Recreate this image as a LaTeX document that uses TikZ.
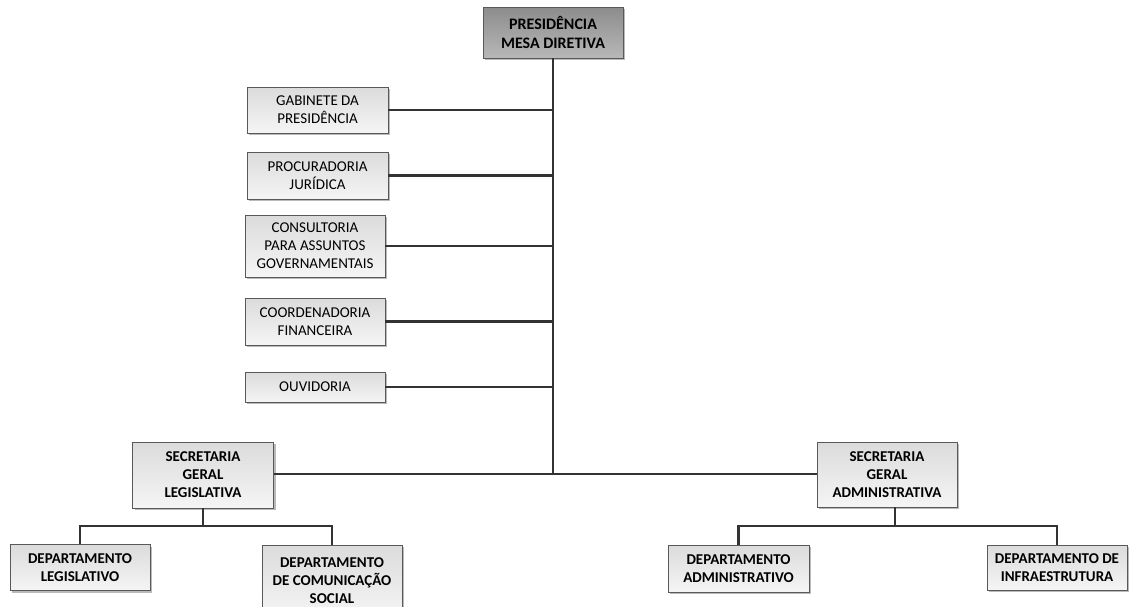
\documentclass[tikz,border=0pt]{standalone}
\usepackage{fontspec}
\setmainfont{Carlito}
\usetikzlibrary{shadows}
\begin{document}
\begin{tikzpicture}[x=1pt,y=-1pt,
  box/.style={draw=black!65, line width=0.9pt, top color=black!14, bottom color=black!4,
    drop shadow={shadow xshift=2pt, shadow yshift=-2pt, opacity=0.45, fill=black!60},
    align=center, inner sep=0pt, font=\fontsize{15}{18}\selectfont},
  bbox/.style={box, font=\fontsize{15}{18}\selectfont\bfseries},
  topbox/.style={bbox, top color=black!45, bottom color=black!28, font=\fontsize{16}{19.5}\selectfont\bfseries},
  conn/.style={draw=black!80, line width=2.3pt}]
\clip (0,0) rectangle (1144,606);
\useasboundingbox (0,0) rectangle (1144,606);
\fill[white] (0,0) rectangle (1144,606);

\node[topbox, minimum width=140, minimum height=51] (top) at (553,32.5) {PRESIDÊNCIA\\MESA DIRETIVA};
\node[box, minimum width=141, minimum height=46] (gab) at (317.5,110) {GABINETE DA\\PRESIDÊNCIA};
\node[box, minimum width=141, minimum height=47] (proc) at (317.5,175.5) {PROCURADORIA\\JURÍDICA};
\node[box, minimum width=140, minimum height=62] (cons) at (315,246) {CONSULTORIA\\PARA ASSUNTOS\\GOVERNAMENTAIS};
\node[box, minimum width=140, minimum height=47] (coord) at (315,321.5) {COORDENADORIA\\FINANCEIRA};
\node[box, minimum width=140, minimum height=30] (ouv) at (315,387) {OUVIDORIA};

\node[bbox, minimum width=141, minimum height=66] (secleg) at (203,475) {SECRETARIA\\GERAL\\LEGISLATIVA};
\node[bbox, minimum width=140, minimum height=65] (secadm) at (887,474.5) {SECRETARIA\\GERAL\\ADMINISTRATIVA};

\node[bbox, minimum width=140, minimum height=46] (deplegis) at (80,567.5) {DEPARTAMENTO\\LEGISLATIVO};
\node[bbox, minimum width=140, minimum height=72] (depcom) at (332,581) {DEPARTAMENTO\\DE COMUNICAÇÃO\\SOCIAL};
\node[bbox, minimum width=141, minimum height=47] (depadm) at (738.5,568.5) {DEPARTAMENTO\\ADMINISTRATIVO};
\node[bbox, minimum width=140, minimum height=45] (depinf) at (1057,567.5) {DEPARTAMENTO DE\\INFRAESTRUTURA};

\coordinate (jT) at (553,474);
\coordinate (jL) at (203,526);
\coordinate (jR) at (895,526);

\draw[conn] (top.south) -- (jT);
\draw[conn] (gab.east) -- (gab.east -| jT);
\draw[conn] (proc.east) -- (proc.east -| jT);
\draw[conn] (cons.east) -- (cons.east -| jT);
\draw[conn] (coord.east) -- (coord.east -| jT);
\draw[conn] (ouv.east) -- (ouv.east -| jT);
\draw[conn] (secleg.east |- jT) -- (secadm.west |- jT);
\draw[conn] (secleg.south) -- (jL);
\draw[conn] (deplegis.north) |- (jL) -| (depcom.north);
\draw[conn] (secadm.south -| jR) -- (jR);
\draw[conn] (depadm.north) |- (jR) -| (depinf.north);
\end{tikzpicture}
\end{document}
